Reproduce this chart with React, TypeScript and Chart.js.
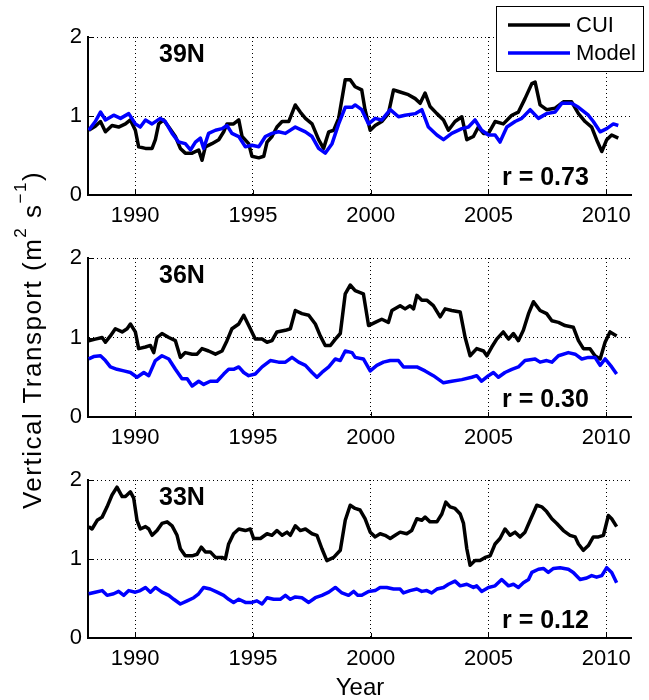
import React, { useEffect, useRef } from 'react';
import { Chart, registerables } from 'chart.js';

Chart.register(...registerables);

const FONT = '"Liberation Sans", Arial, Helvetica, sans-serif';

const X_TICKS = [1990, 1995, 2000, 2005, 2010];
const Y_TICKS = [0, 1, 2];
const X_MIN = 1988;
const X_MAX = 2011.05;

const PANEL_LABELS = ['39N', '36N', '33N'];
const R_LABELS = ['r = 0.73', 'r = 0.30', 'r = 0.12'];
const LEGEND_LABELS = ['CUI', 'Model'];

// [year, value]
const cui39: [number, number][] = [
  [1988.03,0.82],[1988.31,0.87],[1988.53,0.93],[1988.74,0.80],[1989.02,0.88],[1989.30,0.86],[1989.59,0.90],[1989.80,0.95],
  [1990.01,0.82],[1990.15,0.61],[1990.44,0.59],[1990.72,0.59],[1990.86,0.70],[1991.00,0.90],[1991.21,0.95],[1991.43,0.86],
  [1991.71,0.74],[1991.92,0.59],[1992.13,0.53],[1992.42,0.53],[1992.70,0.57],[1992.84,0.44],[1992.98,0.61],[1993.26,0.65],
  [1993.55,0.70],[1993.76,0.80],[1993.90,0.90],[1994.18,0.90],[1994.40,0.95],[1994.54,0.74],[1994.82,0.65],[1994.96,0.49],
  [1995.25,0.47],[1995.46,0.49],[1995.60,0.67],[1995.81,0.74],[1996.02,0.86],[1996.24,0.93],[1996.52,0.93],[1996.80,1.14],
  [1997.01,1.05],[1997.23,0.97],[1997.51,0.90],[1997.79,0.70],[1998.00,0.59],[1998.22,0.80],[1998.43,0.82],[1998.64,0.97],
  [1998.92,1.46],[1999.13,1.46],[1999.34,1.37],[1999.62,1.33],[1999.76,1.08],[1999.98,0.82],[2000.19,0.88],[2000.47,0.93],
  [2000.75,1.03],[2000.97,1.33],[2001.18,1.31],[2001.60,1.27],[2001.89,1.22],[2002.10,1.16],[2002.31,1.29],[2002.52,1.12],
  [2002.81,1.03],[2003.09,0.95],[2003.30,0.82],[2003.58,0.93],[2003.87,0.99],[2004.08,0.70],[2004.36,0.74],[2004.57,0.86],
  [2004.79,0.78],[2005.00,0.78],[2005.28,0.93],[2005.63,0.90],[2005.99,1.01],[2006.27,1.05],[2006.55,1.22],[2006.84,1.41],
  [2006.98,1.43],[2007.19,1.14],[2007.47,1.08],[2007.83,1.10],[2008.18,1.18],[2008.53,1.18],[2008.82,1.03],[2009.10,0.93],
  [2009.38,0.86],[2009.59,0.70],[2009.81,0.55],[2010.02,0.70],[2010.23,0.76],[2010.51,0.72],
];

const model39: [number, number][] = [
  [1988.03,0.82],[1988.31,0.93],[1988.53,1.05],[1988.74,0.95],[1989.09,1.01],[1989.38,0.97],[1989.73,1.03],[1990.01,0.90],
  [1990.22,0.86],[1990.44,0.95],[1990.72,0.90],[1991.07,0.97],[1991.28,0.93],[1991.57,0.78],[1991.85,0.67],[1992.13,0.65],
  [1992.35,0.57],[1992.56,0.67],[1992.77,0.72],[1992.91,0.59],[1993.12,0.78],[1993.41,0.82],[1993.69,0.84],[1993.90,0.88],
  [1994.11,0.78],[1994.40,0.74],[1994.68,0.61],[1994.96,0.63],[1995.25,0.61],[1995.53,0.74],[1995.81,0.78],[1996.09,0.80],
  [1996.38,0.78],[1996.80,0.86],[1997.23,0.80],[1997.51,0.74],[1997.79,0.59],[1998.07,0.53],[1998.36,0.65],[1998.64,0.90],
  [1998.92,1.11],[1999.21,1.11],[1999.34,1.14],[1999.62,1.08],[1999.91,0.90],[2000.19,0.97],[2000.47,0.95],[2000.83,1.08],
  [2001.18,0.99],[2001.46,1.01],[2001.89,1.03],[2002.17,1.08],[2002.45,0.86],[2002.81,0.76],[2003.09,0.70],[2003.44,0.78],
  [2003.87,0.84],[2004.15,0.86],[2004.43,0.95],[2004.71,0.82],[2005.00,0.76],[2005.28,0.76],[2005.49,0.67],[2005.78,0.86],
  [2006.13,0.93],[2006.41,0.97],[2006.77,1.08],[2007.12,0.97],[2007.47,1.03],[2007.83,1.05],[2008.11,1.16],[2008.53,1.16],
  [2008.82,1.11],[2009.24,1.01],[2009.45,0.93],[2009.74,0.80],[2010.02,0.84],[2010.30,0.90],[2010.51,0.88],
];

const cui36: [number, number][] = [
  [1988.03,0.96],[1988.31,0.98],[1988.60,1.00],[1988.74,0.94],[1988.95,1.02],[1989.16,1.11],[1989.45,1.07],[1989.66,1.11],
  [1989.80,1.17],[1990.01,1.07],[1990.15,0.86],[1990.44,0.88],[1990.65,0.90],[1990.79,0.81],[1990.93,1.00],[1991.14,1.05],
  [1991.43,1.00],[1991.71,0.96],[1991.92,0.75],[1992.13,0.81],[1992.42,0.79],[1992.63,0.79],[1992.84,0.86],[1993.12,0.83],
  [1993.41,0.79],[1993.69,0.83],[1993.90,0.96],[1994.11,1.11],[1994.40,1.17],[1994.61,1.28],[1994.89,1.11],[1995.10,0.98],
  [1995.39,0.98],[1995.60,0.94],[1995.81,0.96],[1996.02,1.07],[1996.38,1.09],[1996.59,1.11],[1996.80,1.34],[1997.08,1.30],
  [1997.37,1.28],[1997.65,1.17],[1997.86,1.02],[1998.07,0.90],[1998.29,0.90],[1998.50,0.98],[1998.71,1.05],[1998.92,1.55],
  [1999.13,1.66],[1999.34,1.59],[1999.69,1.55],[1999.91,1.15],[2000.19,1.19],[2000.47,1.23],[2000.75,1.19],[2000.90,1.34],
  [2001.25,1.40],[2001.46,1.36],[2001.67,1.40],[2001.82,1.36],[2001.96,1.53],[2002.17,1.47],[2002.38,1.47],[2002.66,1.40],
  [2002.95,1.26],[2003.16,1.36],[2003.44,1.34],[2003.80,1.32],[2004.01,1.00],[2004.22,0.77],[2004.50,0.86],[2004.79,0.83],
  [2004.93,0.77],[2005.14,0.88],[2005.35,0.98],[2005.63,1.07],[2005.85,0.98],[2006.06,1.05],[2006.27,0.96],[2006.48,1.09],
  [2006.70,1.30],[2006.91,1.45],[2007.19,1.34],[2007.47,1.30],[2007.69,1.21],[2007.97,1.19],[2008.25,1.15],[2008.60,1.13],
  [2008.82,0.96],[2009.03,0.86],[2009.31,0.86],[2009.52,0.77],[2009.74,0.73],[2009.95,0.94],[2010.16,1.07],[2010.44,1.02],
];

const model36: [number, number][] = [
  [1988.03,0.73],[1988.24,0.76],[1988.53,0.77],[1988.74,0.71],[1988.95,0.63],[1989.23,0.60],[1989.52,0.58],[1989.80,0.56],
  [1990.08,0.50],[1990.37,0.56],[1990.58,0.52],[1990.86,0.71],[1991.14,0.77],[1991.43,0.73],[1991.71,0.60],[1991.99,0.48],
  [1992.21,0.48],[1992.42,0.39],[1992.70,0.45],[1992.91,0.41],[1993.19,0.45],[1993.48,0.45],[1993.76,0.54],[1993.97,0.60],
  [1994.18,0.60],[1994.40,0.63],[1994.61,0.56],[1994.82,0.52],[1995.10,0.54],[1995.39,0.63],[1995.74,0.71],[1996.09,0.69],
  [1996.38,0.69],[1996.66,0.75],[1996.94,0.69],[1997.23,0.65],[1997.51,0.56],[1997.72,0.50],[1997.93,0.56],[1998.22,0.63],
  [1998.50,0.73],[1998.71,0.71],[1998.92,0.83],[1999.21,0.81],[1999.34,0.75],[1999.69,0.73],[1999.98,0.58],[2000.26,0.65],
  [2000.54,0.69],[2000.83,0.71],[2001.18,0.71],[2001.39,0.63],[2001.67,0.63],[2001.96,0.63],[2002.31,0.58],[2002.66,0.52],
  [2003.09,0.43],[2003.44,0.45],[2003.87,0.47],[2004.29,0.50],[2004.50,0.52],[2004.71,0.45],[2005.00,0.52],[2005.21,0.56],
  [2005.42,0.50],[2005.70,0.56],[2005.99,0.60],[2006.27,0.63],[2006.55,0.71],[2006.98,0.73],[2007.19,0.69],[2007.47,0.71],
  [2007.69,0.69],[2007.97,0.77],[2008.39,0.81],[2008.68,0.79],[2008.96,0.73],[2009.24,0.75],[2009.52,0.75],[2009.74,0.65],
  [2009.95,0.73],[2010.23,0.63],[2010.44,0.54],
];

const cui33: [number, number][] = [
  [1988.03,1.41],[1988.17,1.38],[1988.39,1.49],[1988.60,1.53],[1988.81,1.66],[1989.02,1.81],[1989.23,1.91],[1989.45,1.79],
  [1989.59,1.79],[1989.80,1.85],[1989.94,1.77],[1990.08,1.49],[1990.22,1.38],[1990.44,1.41],[1990.58,1.38],[1990.72,1.30],
  [1990.93,1.36],[1991.14,1.45],[1991.36,1.47],[1991.57,1.42],[1991.78,1.30],[1991.92,1.13],[1992.13,1.04],[1992.42,1.04],
  [1992.63,1.06],[1992.81,1.15],[1992.98,1.09],[1993.19,1.09],[1993.41,1.02],[1993.69,1.02],[1993.83,1.00],[1993.97,1.19],
  [1994.18,1.32],[1994.40,1.38],[1994.68,1.36],[1994.89,1.38],[1995.03,1.26],[1995.32,1.26],[1995.60,1.32],[1995.81,1.30],
  [1996.02,1.36],[1996.24,1.30],[1996.45,1.34],[1996.59,1.30],[1996.80,1.42],[1997.01,1.36],[1997.23,1.38],[1997.51,1.32],
  [1997.72,1.30],[1997.93,1.13],[1998.14,0.98],[1998.43,1.02],[1998.71,1.11],[1998.92,1.49],[1999.13,1.68],[1999.34,1.64],
  [1999.55,1.62],[1999.76,1.51],[1999.98,1.34],[2000.19,1.28],[2000.40,1.32],[2000.61,1.30],[2000.83,1.26],[2001.04,1.30],
  [2001.25,1.34],[2001.53,1.32],[2001.74,1.36],[2001.96,1.51],[2002.17,1.49],[2002.31,1.53],[2002.52,1.47],[2002.81,1.47],
  [2003.02,1.57],[2003.19,1.72],[2003.37,1.66],[2003.58,1.64],[2003.80,1.57],[2003.94,1.45],[2004.08,1.13],[2004.22,0.92],
  [2004.43,0.98],[2004.64,0.98],[2004.86,1.02],[2005.07,1.04],[2005.28,1.19],[2005.49,1.26],[2005.70,1.38],[2005.92,1.30],
  [2006.13,1.34],[2006.34,1.28],[2006.55,1.34],[2006.77,1.49],[2007.05,1.68],[2007.26,1.66],[2007.47,1.60],[2007.69,1.51],
  [2007.90,1.45],[2008.18,1.36],[2008.46,1.30],[2008.68,1.28],[2008.82,1.19],[2009.03,1.11],[2009.24,1.17],[2009.45,1.28],
  [2009.67,1.28],[2009.88,1.30],[2010.09,1.55],[2010.23,1.51],[2010.44,1.41],
];

const model33: [number, number][] = [
  [1988.03,0.56],[1988.31,0.58],[1988.60,0.60],[1988.81,0.54],[1989.09,0.56],[1989.30,0.59],[1989.52,0.54],[1989.73,0.60],
  [1990.01,0.58],[1990.22,0.60],[1990.44,0.64],[1990.65,0.58],[1990.86,0.64],[1991.14,0.58],[1991.43,0.54],[1991.64,0.49],
  [1991.92,0.43],[1992.21,0.47],[1992.49,0.51],[1992.70,0.56],[1992.91,0.64],[1993.19,0.62],[1993.48,0.58],[1993.76,0.54],
  [1993.97,0.49],[1994.18,0.45],[1994.40,0.49],[1994.68,0.45],[1994.96,0.45],[1995.17,0.47],[1995.39,0.43],[1995.60,0.51],
  [1995.88,0.49],[1996.16,0.49],[1996.38,0.54],[1996.59,0.49],[1996.80,0.52],[1997.08,0.51],[1997.37,0.45],[1997.65,0.51],
  [1997.93,0.54],[1998.22,0.58],[1998.50,0.64],[1998.78,0.57],[1999.06,0.54],[1999.28,0.59],[1999.45,0.54],[1999.62,0.54],
  [1999.91,0.59],[2000.19,0.60],[2000.40,0.64],[2000.68,0.64],[2000.97,0.62],[2001.25,0.62],[2001.39,0.57],[2001.67,0.60],
  [2001.96,0.62],[2002.17,0.59],[2002.38,0.60],[2002.59,0.57],[2002.81,0.62],[2003.09,0.64],[2003.30,0.68],[2003.58,0.72],
  [2003.80,0.66],[2004.08,0.68],[2004.36,0.64],[2004.50,0.66],[2004.71,0.59],[2005.00,0.64],[2005.28,0.66],[2005.56,0.74],
  [2005.85,0.66],[2006.06,0.68],[2006.27,0.64],[2006.48,0.70],[2006.70,0.74],[2006.84,0.83],[2007.12,0.87],[2007.33,0.88],
  [2007.54,0.83],[2007.76,0.88],[2008.04,0.89],[2008.39,0.87],[2008.60,0.83],[2008.89,0.74],[2009.17,0.76],[2009.38,0.79],
  [2009.59,0.77],[2009.81,0.79],[2010.02,0.89],[2010.23,0.83],[2010.44,0.70],
];

const annotPlugin = {
  id: 'annot',
  afterDraw(chart: any) {
    const o = chart.options.plugins.annot || {};
    const { ctx, chartArea: a, scales } = chart;
    ctx.save();
    // inward tick marks
    ctx.strokeStyle = '#000';
    ctx.lineWidth = 1;
    ctx.setLineDash([]);
    ctx.beginPath();
    for (const v of X_TICKS) {
      const px = Math.round(scales.x.getPixelForValue(v)) + 0.5;
      ctx.moveTo(px, a.bottom);
      ctx.lineTo(px, a.bottom - 5);
    }
    for (const v of Y_TICKS) {
      const py = Math.round(scales.y.getPixelForValue(v)) + 0.5;
      ctx.moveTo(a.left, py);
      ctx.lineTo(a.left + 5, py);
    }
    ctx.stroke();

    ctx.fillStyle = '#000';
    ctx.textBaseline = 'alphabetic';
    ctx.textAlign = 'left';
    ctx.font = `bold 25px ${FONT}`;
    if (o.label) ctx.fillText(o.label, a.left + 71, a.top + 25);
    if (o.r) ctx.fillText(o.r, a.left + 414, a.bottom - 10);

    if (o.legend) {
      const bx = 496.5, by = 6.5, bw = 147, bh = 65;
      ctx.fillStyle = '#fff';
      ctx.fillRect(bx, by, bw, bh);
      ctx.strokeStyle = '#000';
      ctx.lineWidth = 1;
      ctx.strokeRect(bx, by, bw, bh);
      const colors = ['#000000', '#0000ff'];
      const ys = [25, 53];
      ctx.font = `22px ${FONT}`;
      ctx.textBaseline = 'middle';
      LEGEND_LABELS.forEach((t, i) => {
        ctx.strokeStyle = colors[i];
        ctx.lineWidth = 3.5;
        ctx.beginPath();
        ctx.moveTo(508, ys[i]);
        ctx.lineTo(570, ys[i]);
        ctx.stroke();
        ctx.fillStyle = '#000';
        ctx.fillText(t, 576, ys[i] + 1);
      });
    }
    if (o.year) {
      ctx.font = `24px ${FONT}`;
      ctx.textAlign = 'center';
      ctx.textBaseline = 'alphabetic';
      ctx.fillStyle = '#000';
      ctx.fillText('Year', 360, chart.height - 5);
    }
    ctx.restore();
  },
};

type PanelProps = {
  top: number;
  height: number;
  padTop: number;
  padBottom: number;
  cui: [number, number][];
  model: [number, number][];
  label: string;
  r: string;
  legend?: boolean;
  year?: boolean;
};

function Panel(p: PanelProps) {
  const ref = useRef<HTMLCanvasElement | null>(null);
  useEffect(() => {
    if (!ref.current) return;
    const gridCommon = {
      color: '#000',
      lineWidth: 1,
      drawTicks: false,
      borderDash: [1, 3],
    };
    const chart = new Chart(ref.current, {
      type: 'line',
      data: {
        datasets: [
          {
            label: LEGEND_LABELS[1],
            data: p.model.map(([x, y]) => ({ x, y })),
            borderColor: '#0000ff',
            backgroundColor: '#0000ff',
            borderWidth: 3.5,
            borderJoinStyle: 'round',
            pointRadius: 0,
            tension: 0,
            order: 0,
          },
          {
            label: LEGEND_LABELS[0],
            data: p.cui.map(([x, y]) => ({ x, y })),
            borderColor: '#000000',
            backgroundColor: '#000000',
            borderWidth: 3.5,
            borderJoinStyle: 'round',
            pointRadius: 0,
            tension: 0,
            order: 1,
          },
        ],
      },
      options: {
        responsive: false,
        animation: false,
        events: [],
        layout: { padding: { top: p.padTop, left: 0, right: 18, bottom: p.padBottom } },
        plugins: {
          legend: { display: false },
          tooltip: { enabled: false },
          annot: { label: p.label, r: p.r, legend: !!p.legend, year: !!p.year },
        } as any,
        scales: {
          x: {
            type: 'linear',
            min: X_MIN,
            max: X_MAX,
            afterBuildTicks: (s: any) => {
              s.ticks = X_TICKS.map((v) => ({ value: v }));
            },
            afterFit: (s: any) => {
              s.height = 35;
            },
            grid: gridCommon as any,
            border: { display: true, color: '#000', width: 2, dash: [1, 3] } as any,
            ticks: {
              font: { family: FONT, size: 22 },
              color: '#000',
              padding: 8,
              maxRotation: 0,
              autoSkip: false,
              callback: (v: any) => String(v),
            },
          },
          y: {
            type: 'linear',
            min: 0,
            max: 2,
            afterBuildTicks: (s: any) => {
              s.ticks = Y_TICKS.map((v) => ({ value: v }));
            },
            afterFit: (s: any) => {
              s.width = 88;
            },
            grid: gridCommon as any,
            border: { display: true, color: '#000', width: 2, dash: [1, 3] } as any,
            ticks: {
              font: { family: FONT, size: 22 },
              color: '#000',
              padding: 6,
              callback: (v: any) => String(v),
            },
          },
        },
      },
      plugins: [annotPlugin as any],
    } as any);
    return () => chart.destroy();
  }, []);
  return (
    <canvas
      ref={ref}
      width={649}
      height={p.height}
      style={{ position: 'absolute', left: 0, top: p.top, display: 'block' }}
    />
  );
}

export default function App() {
  return (
    <div
      style={{
        position: 'absolute',
        left: 0,
        top: 0,
        width: 649,
        height: 700,
        background: '#fff',
        overflow: 'hidden',
      }}
    >
      <Panel top={0} height={230} padTop={37} padBottom={0} cui={cui39} model={model39}
        label={PANEL_LABELS[0]} r={R_LABELS[0]} legend />
      <Panel top={230} height={222} padTop={28} padBottom={0} cui={cui36} model={model36}
        label={PANEL_LABELS[1]} r={R_LABELS[1]} />
      <Panel top={452} height={248} padTop={28} padBottom={27} cui={cui33} model={model33}
        label={PANEL_LABELS[2]} r={R_LABELS[2]} year />
      <div
        style={{
          position: 'absolute',
          left: 32 - 250,
          top: 340 - 20,
          width: 500,
          height: 40,
          lineHeight: '40px',
          transform: 'rotate(-90deg)',
          textAlign: 'center',
          fontFamily: FONT,
          fontSize: 26,
          letterSpacing: '1.5px',
          whiteSpace: 'nowrap',
          color: '#000',
        }}
      >
        Vertical Transport (m
        <span style={{ fontSize: 17, position: 'relative', top: -15 }}>2</span>
        {' s'}
        <span style={{ fontSize: 17, position: 'relative', top: -15 }}>−1</span>)
      </div>
    </div>
  );
}
